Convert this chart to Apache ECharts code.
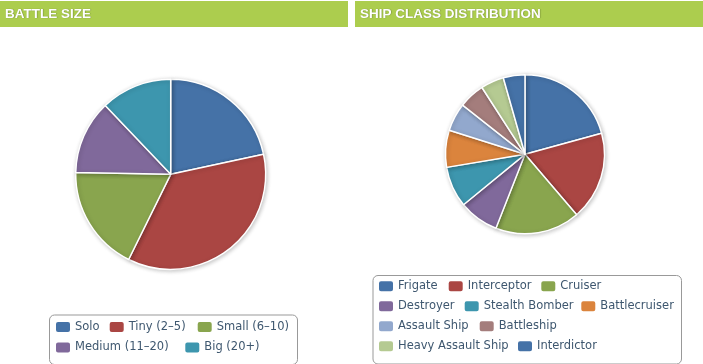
<!DOCTYPE html>
<html>
<head>
<meta charset="utf-8">
<script src="https://cdn.jsdelivr.net/npm/echarts@6/dist/echarts.min.js"></script>
<style>
html,body{margin:0;padding:0;background:#fff;}
#c{width:703px;height:364px;}
</style>
</head>
<body>
<div id="c"></div>
<script>
// ---- data ----
var battleCategories = ['Solo', 'Tiny (2–5)', 'Small (6–10)', 'Medium (11–20)', 'Big (20+)'];
var battleValues = [21.6, 35.7, 18.0, 12.6, 12.1];
var shipCategories = ['Frigate', 'Interceptor', 'Cruiser', 'Destroyer', 'Stealth Bomber', 'Battlecruiser', 'Assault Ship', 'Battleship', 'Heavy Assault Ship', 'Interdictor'];
var shipValues = [20.7, 18.0, 17.2, 8.1, 8.3, 7.5, 5.75, 5.25, 4.7, 4.4];
var titles = ['BATTLE SIZE', 'SHIP CLASS DISTRIBUTION'];

// ---- styles ----
var palette = ['#4572A7', '#AA4643', '#89A54E', '#80699B', '#3D96AE', '#DB843D', '#92A8CD', '#A47D7C', '#B5CA92'];
var headerColor = '#accd4e';
var legendFont = 'DejaVu Sans';
var legendColor = '#3E576F';

function toData(names, vals) {
  return names.map(function (n, i) {
    return { name: n, value: vals[i], itemStyle: { color: palette[i % palette.length] } };
  });
}

// legend item layout: [name, left, top]
var leftRows = [[0, 1, 2], [3, 4]];
var leftX = [[54, 107.7, 195.7], [54, 183.3]];
var leftY = [320, 340.5];
var rightRows = [[0, 1, 2], [3, 4, 5], [6, 7], [8, 9]];
var rightX = [[377, 446.7, 539.3], [377, 462.7, 579.3], [377, 477.7], [377, 516]];
var rightY = [279.3, 299.3, 319.3, 339.3];

var legends = [];
function addLegends(names, rows, xs, ys) {
  rows.forEach(function (row, r) {
    row.forEach(function (idx, k) {
      legends.push({
        data: [names[idx]],
        left: xs[r][k], top: ys[r],
        padding: 0,
        itemWidth: 16, itemHeight: 12,
        icon: 'roundRect',
        selectedMode: false,
        textStyle: { fontFamily: legendFont, fontSize: 11.5, color: legendColor, padding: [0, 0, 0, -1] }
      });
    });
  });
}
addLegends(battleCategories, leftRows, leftX, leftY);
addLegends(shipCategories, rightRows, rightX, rightY);

var pieStyle = {
  borderColor: '#ffffff', borderWidth: 1.5,
  shadowBlur: 4, shadowColor: 'rgba(0,0,0,0.22)', shadowOffsetX: 1, shadowOffsetY: 1
};

var chart = echarts.init(document.getElementById('c'), null, { renderer: 'canvas' });
chart.setOption({
  animation: false,
  backgroundColor: '#ffffff',
  legend: legends,
  graphic: [
    { type: 'rect', left: 0, top: 1, shape: { width: 348, height: 26 }, style: { fill: headerColor }, z: 0 },
    { type: 'rect', left: 355, top: 1, shape: { width: 348, height: 26 }, style: { fill: headerColor }, z: 0 },
    { type: 'text', left: 5, top: 7, style: { text: titles[0], fill: '#ffffff', font: 'bold 13.5px "Liberation Sans", Arial, sans-serif', textShadowColor: 'rgba(0,0,0,0.35)', textShadowBlur: 1, textShadowOffsetX: 0.5, textShadowOffsetY: 0.5 }, z: 1 },
    { type: 'text', left: 360, top: 7, style: { text: titles[1], fill: '#ffffff', font: 'bold 13.5px "Liberation Sans", Arial, sans-serif', textShadowColor: 'rgba(0,0,0,0.35)', textShadowBlur: 1, textShadowOffsetX: 0.5, textShadowOffsetY: 0.5 }, z: 1 },
    { type: 'rect', left: 47, top: 312.5, shape: { width: 248, height: 49.5, r: 5 }, style: { fill: 'none', stroke: '#999999', lineWidth: 1 }, z: 0 },
    { type: 'rect', left: 370.5, top: 273, shape: { width: 308.5, height: 88.5, r: 5 }, style: { fill: 'none', stroke: '#999999', lineWidth: 1 }, z: 0 }
  ],
  series: [
    {
      type: 'pie', center: [170.7, 174.3], radius: [0, 95],
      startAngle: 90, clockwise: true,
      label: { show: false }, labelLine: { show: false },
      emphasis: { disabled: true },
      itemStyle: pieStyle,
      data: toData(battleCategories, battleValues)
    },
    {
      type: 'pie', center: [525, 154.3], radius: [0, 79.5],
      startAngle: 90, clockwise: true,
      label: { show: false }, labelLine: { show: false },
      emphasis: { disabled: true },
      itemStyle: pieStyle,
      data: toData(shipCategories, shipValues)
    }
  ]
});
</script>
</body>
</html>
